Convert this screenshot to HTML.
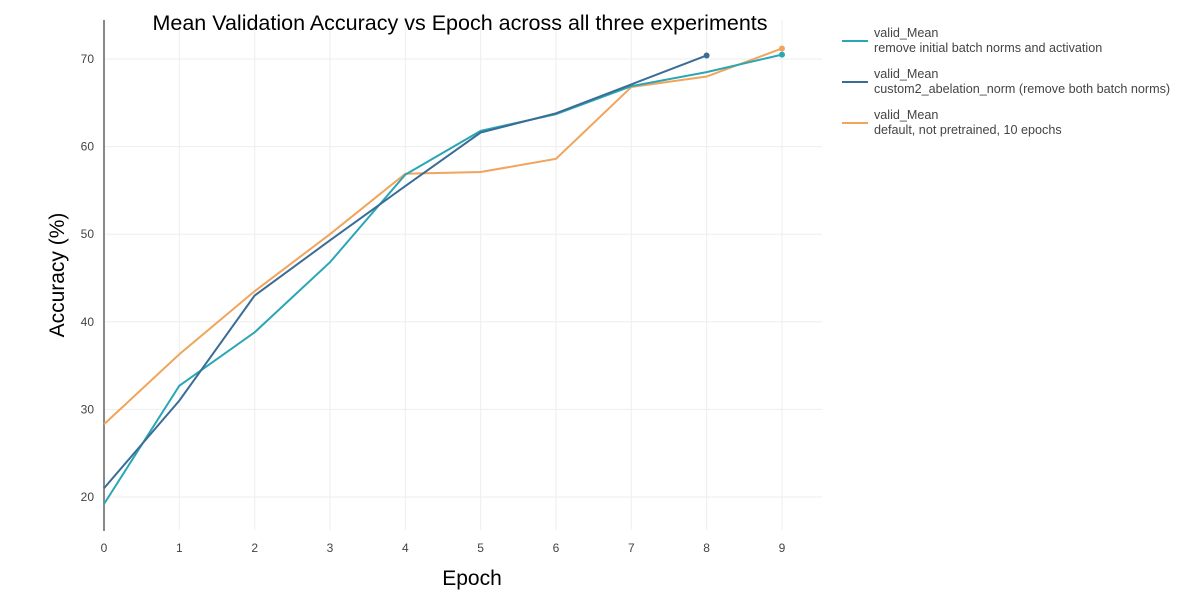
<!DOCTYPE html>
<html><head><meta charset="utf-8"><style>
body{margin:0;background:#fff;width:1200px;height:600px;overflow:hidden;font-family:"Liberation Sans",sans-serif}
</style></head><body>
<svg id="chart" width="1200" height="600" xmlns="http://www.w3.org/2000/svg">
<g id="grid"></g><g id="lines"></g>
<text x="460" y="30" text-anchor="middle" font-size="21.5" fill="#000">Mean Validation Accuracy vs Epoch across all three experiments</text>
<text transform="translate(64,275) rotate(-90)" text-anchor="middle" font-size="21" fill="#000">Accuracy (%)</text>
<text x="472" y="585" text-anchor="middle" font-size="21" fill="#000">Epoch</text>
<g font-size="12.6" fill="#444">
<line x1="842" y1="41" x2="868" y2="41" stroke="#2ba6b4" stroke-width="2"/><text x="874" y="37">valid_Mean</text><text x="874" y="52">remove initial batch norms and activation</text>
<line x1="842" y1="82" x2="868" y2="82" stroke="#3a6d96" stroke-width="2"/><text x="874" y="78">valid_Mean</text><text x="874" y="93">custom2_abelation_norm (remove both batch norms)</text>
<line x1="842" y1="123" x2="868" y2="123" stroke="#f0a45c" stroke-width="2"/><text x="874" y="119">valid_Mean</text><text x="874" y="134">default, not pretrained, 10 epochs</text>
</g>
</svg>
<script>
const epochs=[0,1,2,3,4,5,6,7,8,9];
const yTicks=[20,30,40,50,60,70];
const teal=[19.2,32.7,38.8,46.8,56.8,61.8,63.7,66.9,68.5,70.5];
const dark=[21.0,31.0,43.0,49.3,55.5,61.6,63.8,67.1,70.4];
const orange=[28.3,36.3,43.5,50.0,56.9,57.1,58.6,66.8,68.0,71.2];
const NS="http://www.w3.org/2000/svg";
const X=e=>104+e*75.33, Y=v=>497-(v-20)*8.76;
const grid=document.getElementById('grid'), lines=document.getElementById('lines');
function mk(tag,attrs,parent){const el=document.createElementNS(NS,tag);for(const k in attrs)el.setAttribute(k,attrs[k]);parent.appendChild(el);return el;}
yTicks.forEach(v=>{
 const l=mk('line',{x1:104,x2:822,y1:Y(v),y2:Y(v),stroke:'#eeeeee'},grid);
 
 
 const t=mk('text',{x:94,y:Y(v)+4,'text-anchor':'end','font-size':12,fill:'#444'},grid);t.textContent=v;
 
 
});
epochs.forEach(e=>{
 const l=mk('line',{x1:X(e),x2:X(e),y1:20,y2:530,stroke:'#eeeeee'},grid);
 
 
 const t=mk('text',{x:X(e),y:552,'text-anchor':'middle','font-size':12,fill:'#444'},grid);t.textContent=e;
 
 
});
const ax=mk('line',{x1:104,x2:104,y1:20,y2:531,stroke:'#888','stroke-width':2},grid);


[[orange,'#f0a45c','orange-series'],[teal,'#2ba6b4','teal-series'],[dark,'#3a6d96','dark-series']].forEach(([d,c,n])=>{
 const p=mk('polyline',{points:d.map((v,i)=>X(epochs[i])+','+Y(v)).join(' '),fill:'none',stroke:c,'stroke-width':2},lines);
 
 
 const last=d.length-1;
 const m=mk('circle',{cx:X(epochs[last]),cy:Y(d[last]),r:3,fill:c},lines);
 
 
});
</script>
</body></html>
